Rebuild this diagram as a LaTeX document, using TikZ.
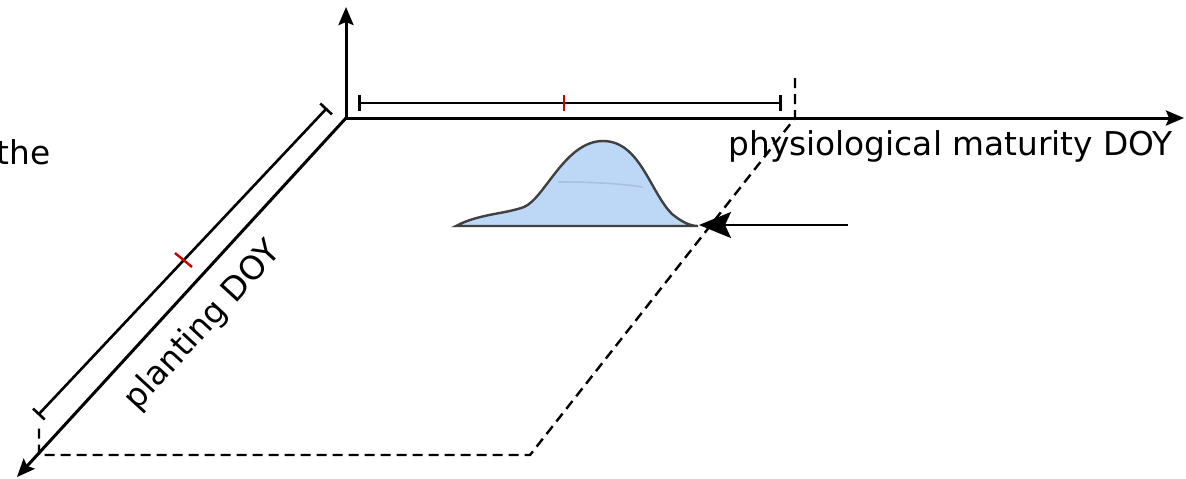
\documentclass[tikz,border=0pt]{standalone}
\usepackage{fontspec}
\setmainfont{DejaVu Sans}
\usetikzlibrary{arrows.meta}
\definecolor{distfill}{HTML}{BDD7F7}
\definecolor{distline}{HTML}{404040}
\definecolor{tickred}{HTML}{CC0000}
\begin{document}
\begin{tikzpicture}[x=0.5pt,y=-0.5pt,
  axis/.style={line width=1.5pt,-{Stealth[length=9pt,width=7.5pt,inset=1.5pt]}},
  rangebar/.style={line width=1.3pt,{Bar[width=8pt,line width=1.3pt]}-{Bar[width=8pt,line width=1.3pt]}},
  redtick/.style={line width=1.2pt,draw=tickred},
  guide/.style={line width=1.2pt,dash pattern=on 5pt off 3pt},
  lbl/.style={font=\fontsize{16.4}{19}\selectfont,inner sep=0pt},
  bigarrow/.style={line width=1.3pt,-{Stealth[length=16pt,width=13pt,inset=3pt]}}]
\useasboundingbox (0,0) rectangle (1186,478);
% coordinates
\coordinate (O) at (346,118);
\coordinate (Ztip) at (346,7);
\coordinate (Xtip) at (1184,118);
\coordinate (Ytip) at (17,477);
\coordinate (B1a) at (358,103);
\coordinate (B1b) at (782,103);
\coordinate (B2a) at (327,108);
\coordinate (B2b) at (38,415);
\coordinate (T1a) at (564,95);
\coordinate (T1b) at (564,111);
\coordinate (T2a) at (175,253);
\coordinate (T2b) at (192,267);
\coordinate (D1) at (795,78);
\coordinate (D2) at (795,118);
\coordinate (D3) at (530,455);
\coordinate (D4) at (39,455);
\coordinate (D5) at (39,428);
\coordinate (As) at (848,225);
\coordinate (Ae) at (699,225);
% distribution
\draw[fill=distfill,draw=distline,line width=1.2pt]
  (456,226) .. controls (478,214) and (505,214) .. (524,207)
  .. controls (545,198) and (565,141) .. (603,141)
  .. controls (640,141) and (650,192) .. (672,214)
  .. controls (682,222) and (690,226) .. (698,226) -- cycle;
\draw[draw=distline!15!distfill,line width=0.8pt] (558,182) .. controls (590,182) and (615,183) .. (643,187);
% dashed guides
\draw[guide] (D1) -- (D2) -- (D3) -- (D4) -- (D5);
% axes
\draw[axis] (O) -- (Ztip);
\draw[axis] (O) -- (Xtip);
\draw[axis] (O) -- (Ytip);
% range bars
\draw[rangebar] (B1a) -- (B1b);
\draw[rangebar] (B2a) -- (B2b);
\draw[redtick] (T1a) -- (T1b);
\draw[redtick] (T2a) -- (T2b);
% arrow
\draw[bigarrow] (As) -- (Ae);
% labels
\node[lbl,anchor=base west] (phys) at (728,155) {physiological maturity DOY};
\node[lbl,rotate=47.5] (plant) at (203,326) {planting DOY};
\node[lbl,anchor=base west] (the) at (-4,164) {the};
\end{tikzpicture}
\end{document}
